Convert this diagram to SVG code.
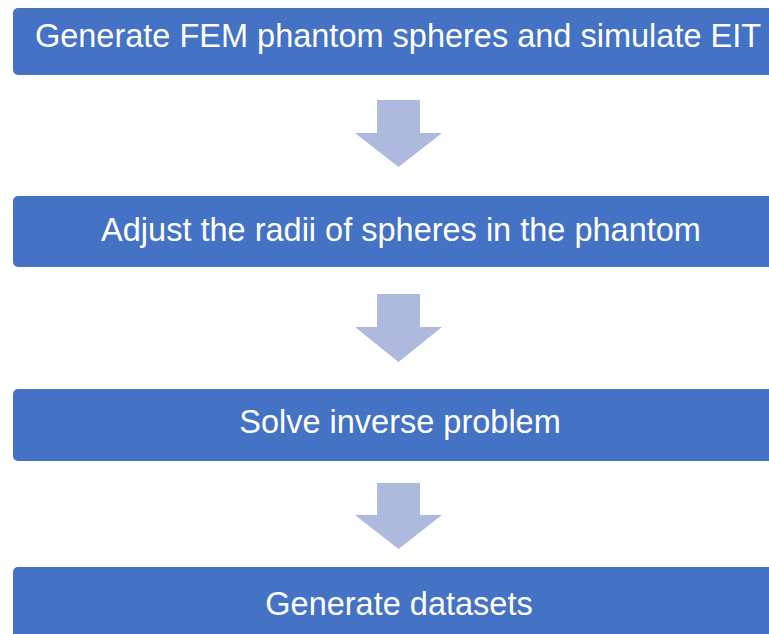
<svg xmlns="http://www.w3.org/2000/svg" width="769" height="634" viewBox="0 0 769 634">
<style>
.box{fill:#4472C4}
.lbl{fill:#FFFFFF;font-family:"Liberation Sans",Arial,sans-serif;font-size:32.5px;text-anchor:middle}
.arr{fill:#AEBADD}
</style>
<rect width="769" height="634" fill="#FFFFFF"/>
<g id="node1"><rect class="box" x="13" y="8" width="780" height="67" rx="5"/><text class="lbl" x="398" y="47">Generate FEM phantom spheres and simulate EIT</text></g>
<g id="node2"><rect class="box" x="13" y="196" width="780" height="71" rx="5"/><text class="lbl" x="401" y="241">Adjust the radii of spheres in the phantom</text></g>
<g id="node3"><rect class="box" x="13" y="389" width="780" height="72" rx="5"/><text class="lbl" x="400" y="433">Solve inverse problem</text></g>
<g id="node4"><rect class="box" x="13" y="567" width="780" height="80" rx="5"/><text class="lbl" x="399" y="615">Generate datasets</text></g>
<g id="connectors">
<polygon class="arr" points="377,100 420,100 420,133 442,133 398.5,167 355,133 377,133"/>
<polygon class="arr" points="377,294 420,294 420,327 442,327 398.5,362 355,327 377,327"/>
<polygon class="arr" points="377,483 420,483 420,515 442,515 398.5,549 355,515 377,515"/>
</g>
</svg>
